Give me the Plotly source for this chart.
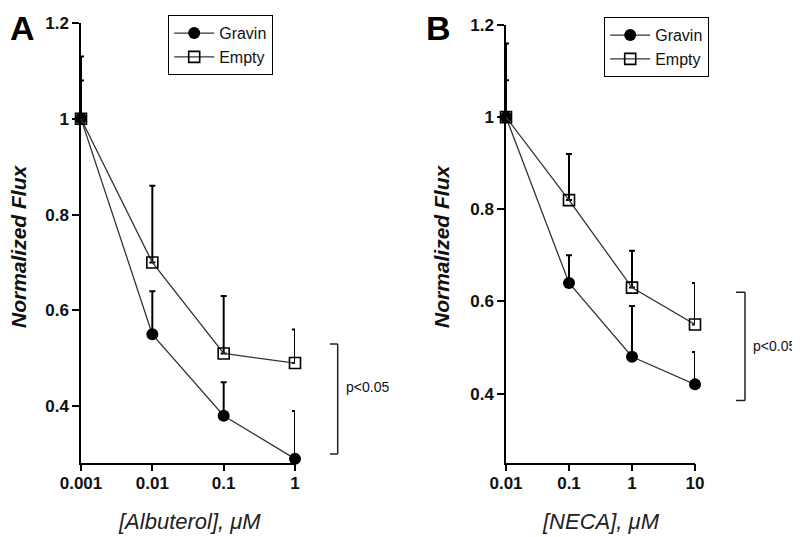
import plotly.graph_objects as go

# Panel A: albuterol concentration (uM)
albuterol = [0.001, 0.01, 0.1, 1]
gravin_a = [1.0, 0.55, 0.38, 0.29]
gravin_a_err = [0.13, 0.09, 0.07, 0.10]
empty_a = [1.0, 0.70, 0.51, 0.49]
empty_a_err = [0.08, 0.16, 0.12, 0.07]

# Panel B: NECA concentration (uM)
neca = [0.01, 0.1, 1, 10]
gravin_b = [1.0, 0.64, 0.48, 0.42]
gravin_b_err = [0.16, 0.06, 0.11, 0.07]
empty_b = [1.0, 0.82, 0.63, 0.55]
empty_b_err = [0.08, 0.10, 0.08, 0.09]

y_ticks = [0.4, 0.6, 0.8, 1.0, 1.2]
y_ticktext = ["0.4", "0.6", "0.8", "1", "1.2"]
xticks_a = ["0.001", "0.01", "0.1", "1"]
xticks_b = ["0.01", "0.1", "1", "10"]

# significance brackets (y range)
sig_a = [0.30, 0.53]
sig_b = [0.385, 0.62]

FONT = "Liberation Sans, Arial, sans-serif"
LINE = "#333333"

# page body adds an 8px offset, so the figure is a bit smaller than the window
W, H, OFF = 792, 529, 8


def fx(px):
    return (px - OFF) / W


def fy(py):
    return 1 - (py - OFF) / H


fig = go.Figure()


def add_pair(x, g, g_err, e, e_err, xa, ya, legend):
    fig.add_trace(go.Scatter(
        x=x, y=g, name="Gravin", mode="lines+markers",
        line=dict(color=LINE, width=1.3),
        marker=dict(symbol="circle", size=12, color="black"),
        error_y=dict(type="data", array=g_err, arrayminus=[0] * len(g),
                     symmetric=False, color="black", thickness=2, width=3),
        xaxis=xa, yaxis=ya, legend=legend, cliponaxis=False))
    fig.add_trace(go.Scatter(
        x=x, y=e, name="Empty", mode="lines+markers",
        line=dict(color=LINE, width=1.3),
        marker=dict(symbol="square-open", size=11, color="black",
                    line=dict(width=1.6)),
        error_y=dict(type="data", array=e_err, arrayminus=[0] * len(e),
                     symmetric=False, color="black", thickness=2, width=3),
        xaxis=xa, yaxis=ya, legend=legend, cliponaxis=False))


add_pair(albuterol, gravin_a, gravin_a_err, empty_a, empty_a_err, "x", "y", "legend")
add_pair(neca, gravin_b, gravin_b_err, empty_b, empty_b_err, "x2", "y2", "legend2")

axis_style = dict(showline=True, linecolor="black", linewidth=1.5, ticks="outside",
                  ticklen=7, tickwidth=1.5, tickcolor="black", showgrid=False,
                  zeroline=False,
                  tickfont=dict(family=FONT, size=17, color="#111", weight="bold"))

legend_style = dict(xanchor="left", yanchor="top", bordercolor="black",
                    borderwidth=1.2, bgcolor="white",
                    font=dict(family=FONT, size=16, color="#111"),
                    tracegroupgap=0, itemwidth=40)

fig.update_layout(
    width=W, height=H,
    margin=dict(l=0, r=0, t=0, b=0, autoexpand=False),
    paper_bgcolor="white", plot_bgcolor="white",
    xaxis=dict(type="log", domain=[fx(81), fx(295)], range=[-3, 0],
               tickvals=albuterol, ticktext=xticks_a, anchor="y",
               ticklabelstandoff=-3, **axis_style),
    yaxis=dict(domain=[fy(462.7), fy(23)], range=[0.282, 1.2],
               tickvals=y_ticks, ticktext=y_ticktext, anchor="x", **axis_style),
    xaxis2=dict(type="log", domain=[fx(506), fx(695)], range=[-2, 1],
                tickvals=neca, ticktext=xticks_b, anchor="y2",
                ticklabelstandoff=-3, **axis_style),
    yaxis2=dict(domain=[fy(462.7), fy(25)], range=[0.25, 1.2],
                tickvals=y_ticks, ticktext=y_ticktext, anchor="x2", **axis_style),
    legend=dict(x=fx(168), y=fy(15), **legend_style),
    legend2=dict(x=fx(604), y=fy(17), **legend_style),
    showlegend=True,
)


def label(text, x, y, size, angle=0, color="#111", xanchor="center", yanchor="middle", yref="paper"):
    return dict(text=text, x=x, y=y, xref="paper", yref=yref, textangle=angle,
                xanchor=xanchor, yanchor=yanchor, showarrow=False,
                font=dict(family=FONT, size=size, color=color))


annotations = [
    label("<b>A</b>", fx(8), fy(7), 34, color="black", xanchor="left", yanchor="top"),
    label("<b>B</b>", fx(424), fy(7), 34, color="black", xanchor="left", yanchor="top"),
    label("<b><i>Normalized Flux</i></b>", fx(18), fy(246), 21, angle=-90),
    label("<b><i>Normalized Flux</i></b>", fx(441), fy(246), 21, angle=-90),
    label("<i>[Albuterol], μM</i>", fx(189), fy(521), 22, color="#222"),
    label("<i>[NECA], μM</i>", fx(601), fy(521), 22, color="#222"),
    label("p<0.05", fx(344), sum(sig_a) / 2 + 0.025, 14, xanchor="left", yref="y"),
    label("p<0.05", fx(751), sum(sig_b) / 2, 14, xanchor="left", yref="y2"),
]
fig.update_layout(annotations=annotations)

# significance brackets
for (x_bar, x_arm, yref, sig) in [(337.7, 330, "y", sig_a), (745, 736, "y2", sig_b)]:
    line = dict(color="#222", width=1.5)
    fig.add_shape(type="line", xref="paper", yref=yref, x0=fx(x_bar), x1=fx(x_bar),
                  y0=sig[0], y1=sig[1], line=line)
    for yv in sig:
        fig.add_shape(type="line", xref="paper", yref=yref, x0=fx(x_arm),
                      x1=fx(x_bar), y0=yv, y1=yv, line=line)

fig.write_html("out.html")
